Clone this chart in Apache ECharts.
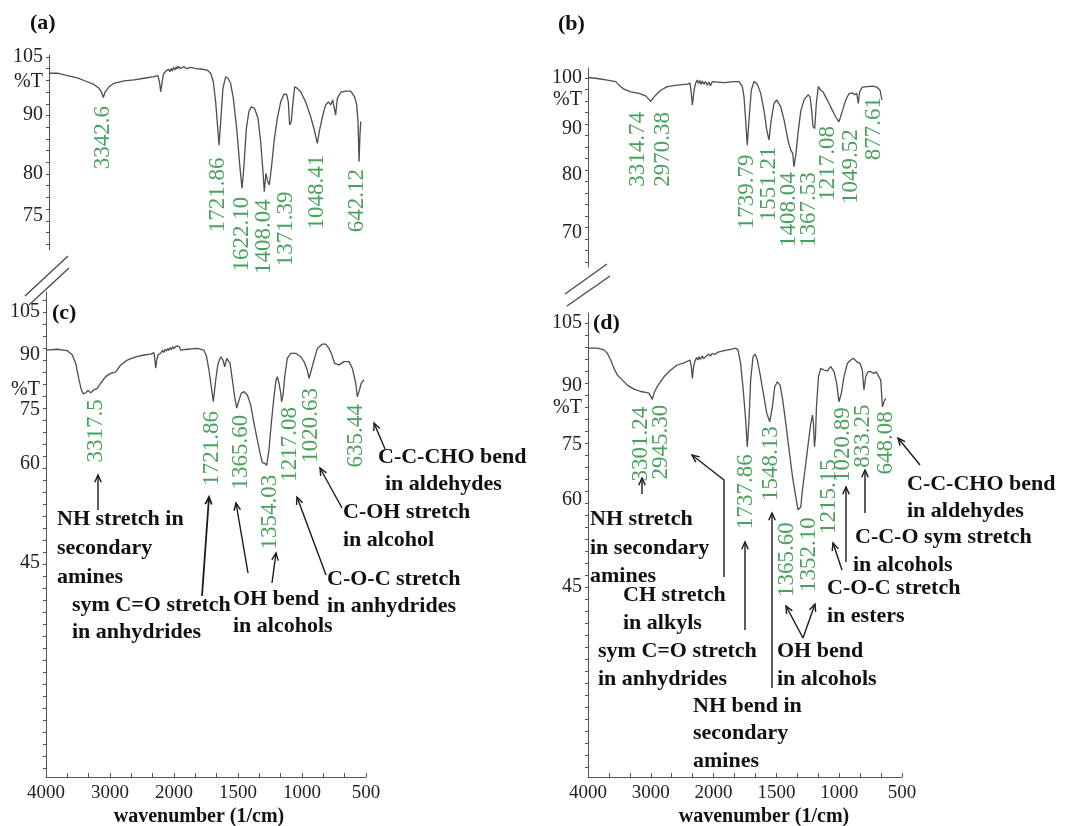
<!DOCTYPE html>
<html><head><meta charset="utf-8">
<script src="https://cdn.jsdelivr.net/npm/echarts@6/dist/echarts.min.js"></script>
<style>html,body{margin:0;padding:0;background:#fff}#chart{width:1066px;height:826px}</style>
</head><body><div id="chart"></div>
<script>
// ---------------- DATA ----------------
const X_TICK_LABELS = [4000, 3000, 2000, 1500, 1000, 500];

// Panel (a)
const A_WAVENUMBER = [4000,3872,3718,3564,3411,3308,3231,3195,3164,3138,3077,3000,2846,2692,2538,2385,2323,2297,2282,2262,2241,2200,2180,2160,2140,2120,2103,2085,2060,2040,2026,2010,1990,1962,1940,1910,1870,1833,1782,1756,1736,1718,1700,1692,1679,1662,1641,1623,1603,1582,1556,1531,1515,1500,1482,1462,1444,1418,1392,1372,1354,1344,1331,1321,1305,1287,1269,1244,1218,1192,1172,1159,1149,1136,1123,1110,1090,1064,1026,987,956,936,921,897,872,851,833,818,803,795,782,756,718,679,649,633,623,615,608,602];
const A_TRANSMITTANCE = [100.8,100.8,100.2,99.6,98.6,97.9,96.9,96.0,94.5,95.9,97.3,98.2,98.8,99.1,99.5,99.9,100.2,98.2,96.0,98.2,100.5,101.4,100.9,101.8,101.2,102.0,101.4,102.3,101.7,102.5,101.9,102.6,102.0,102.5,102.0,102.3,102.0,101.9,101.6,100.8,98.6,93.4,87.2,84.9,88.9,96.9,99.9,99.5,98.2,94.3,87.7,81.0,78.3,81.5,87.7,90.9,92.1,91.7,89.4,85.5,80.4,77.9,80.1,79.3,78.7,81.5,85.5,89.4,93.4,95.4,95.3,93.4,88.3,88.9,93.4,97.3,96.9,96.0,93.4,89.7,87.2,85.2,87.2,89.7,92.6,93.4,92.6,93.9,93.4,90.0,94.3,95.9,96.2,96.2,94.7,92.6,88.9,82.1,86.6,88.9];
const A_Y_LABELS = [105, 90, 80, 75];
const A_PEAK_TEXT = ['3342.6','1721.86','1622.10','1408.04','1371.39','1048.41','642.12'];
const A_PEAK_AT   = [3164, 1692, 1515, 1344, 1305, 936, 615];

// Panel (b)
const B_WAVENUMBER = [4000,3852,3693,3559,3506,3427,3320,3188,3081,3029,3002,2949,2843,2737,2578,2419,2376,2355,2338,2311,2285,2260,2240,2220,2200,2180,2153,2130,2100,2073,2050,2020,1997,1917,1838,1798,1771,1758,1745,1732,1718,1700,1678,1652,1625,1599,1577,1559,1541,1519,1498,1466,1439,1408,1386,1370,1360,1344,1328,1306,1280,1248,1232,1219,1209,1195,1182,1166,1147,1129,1108,1081,1055,1028,1002,975,948,922,896,877,861,848,837,816,776,736,699,675,659];
const B_TRANSMITTANCE = [100.1,99.9,99.6,99.3,98.6,97.8,97.3,97.0,96.5,95.8,95.4,96.3,97.6,98.3,98.6,98.8,99.0,97.0,94.7,97.6,99.0,99.6,98.9,99.5,98.7,99.4,98.8,99.3,98.6,99.2,98.5,99.3,99.4,99.1,99.3,99.3,98.3,96.3,91.8,86.5,91.8,97.6,99.3,98.8,97.0,93.7,89.8,87.6,91.8,95.0,95.7,94.4,91.8,87.6,85.4,84.7,81.8,84.7,89.1,93.5,95.7,96.7,96.3,93.7,90.5,90.1,95.0,98.3,97.6,97.3,96.3,95.0,93.7,92.4,91.4,93.5,95.7,96.9,97.1,96.7,97.0,95.0,97.3,98.2,98.3,98.4,98.2,97.6,95.7];
const B_Y_LABELS = [100, 90, 80, 70];
const B_PEAK_TEXT = ['3314.74','2970.38','1739.79','1551.21','1408.04','1367.53','1217.08','1049.52','877.61'];
const B_PEAK_AT   = [3002, 3002, 1732, 1559, 1360, 1360, 1209, 1002, 848];

// Panel (c)
const C_WAVENUMBER = [4000,3824,3668,3588,3536,3484,3448,3418,3380,3344,3302,3250,3198,3146,3068,2990,2910,2832,2730,2598,2468,2364,2312,2296,2286,2270,2250,2208,2180,2160,2140,2120,2100,2080,2060,2040,2020,2000,1985,1974,1960,1948,1896,1818,1766,1745,1727,1709,1693,1674,1656,1635,1617,1604,1588,1576,1562,1544,1526,1510,1492,1474,1453,1427,1401,1375,1349,1328,1310,1292,1276,1258,1240,1219,1203,1193,1180,1166,1159,1148,1135,1115,1088,1049,1010,984,959,945,927,906,880,841,815,789,771,745,711,672,633,607,580,568,555,537,516];
const C_TRANSMITTANCE = [91.7,92.0,91.5,90.0,87.7,83.2,80.5,79.4,79.7,80.3,79.7,80.5,80.9,82.3,84.1,85.0,85.4,87.3,88.6,89.5,90.0,90.3,90.8,88.2,86.4,88.6,90.0,90.6,91.6,90.9,92.0,91.3,92.3,91.6,92.6,91.9,92.9,92.2,93.1,92.5,93.0,91.7,92.0,92.3,91.7,89.5,85.9,81.4,77.3,83.2,87.7,89.5,88.6,86.8,89.1,89.1,87.7,83.2,78.6,75.5,77.7,79.6,80.0,79.1,76.4,71.3,66.7,63.0,60.4,60.2,59.8,63.9,71.3,78.6,83.2,84.1,82.3,79.6,77.3,79.1,84.1,89.1,90.6,90.6,89.5,88.2,85.9,83.6,85.9,88.6,92.3,93.8,93.8,92.3,90.6,87.7,87.3,88.2,88.2,86.4,82.3,78.6,80.0,82.3,83.2];
const C_Y_LABELS = [105, 90, 75, 60, 45];
const C_PEAK_TEXT = ['3317.5','1721.86','1365.60','1354.03','1217.08','1020.63','635.44'];
const C_PEAK_AT   = [3302, 1693, 1510, 1276, 1159, 945, 568];

// Panel (d)
const D_WAVENUMBER = [4000,3852,3745,3693,3639,3586,3533,3453,3374,3268,3161,3082,3029,2975,2949,2896,2790,2684,2578,2471,2376,2355,2338,2322,2300,2270,2250,2232,2210,2180,2160,2126,2100,2073,2050,2021,1990,1970,1917,1864,1824,1806,1785,1764,1745,1732,1718,1705,1686,1670,1652,1631,1604,1577,1553,1532,1513,1492,1471,1452,1425,1399,1372,1346,1328,1306,1293,1266,1240,1226,1213,1205,1197,1189,1181,1165,1147,1121,1094,1068,1041,1020,1002,983,962,935,908,887,861,834,816,803,789,771,749,723,706,669,656,643,630];
const D_TRANSMITTANCE = [99.0,99.0,98.6,97.8,96.2,94.2,92.6,91.4,90.2,89.2,88.6,88.4,88.2,86.6,88.2,89.9,92.2,93.8,95.0,95.5,96.2,94.6,91.8,94.2,95.8,96.8,96.2,97.0,96.3,97.2,96.5,97.0,96.9,97.6,97.1,97.8,97.5,98.0,98.4,98.7,99.0,98.6,95.4,89.0,81.4,74.5,81.4,91.4,97.0,97.6,96.2,93.0,88.1,83.1,80.9,84.7,89.8,91.0,90.2,86.9,80.5,73.6,66.4,60.9,58.3,58.8,62.7,70.0,77.1,80.5,82.6,80.5,74.5,77.1,84.7,92.2,94.2,93.8,93.6,94.6,93.4,90.6,86.0,88.1,92.2,95.4,96.2,96.6,95.8,95.4,93.8,89.0,92.2,93.4,93.4,93.0,93.4,91.4,84.7,86.0,86.9];
const D_Y_LABELS = [105, 90, 75, 60, 45];
const D_PEAK_TEXT = ['3301.24','2945.30','1737.86','1548.13','1365.60','1352.10','1215.15','1020.89','833.25','648.08'];
const D_PEAK_AT   = [2975, 2975, 1732, 1553, 1328, 1328, 1197, 1002, 803, 656];

// ---------------- LAYOUT / STYLE ----------------
const GREEN = '#1d8a36';
const CURVE = '#4a504a';
const AXIS = '#555';
const SERIF = '"Liberation Serif", "Times New Roman", serif';

const LAYOUT = {
  a: { grid:{left:49, top:55, width:325, height:195}, yTickPx:[57,115,174,216], unitAt:98.5, axisX:false, tickStep:11.7,
       labelOffsets:[[0,9],[-1,13],[0,9],[0,8],[17,7],[0,12],[-2,8]] },
  b: { grid:{left:588, top:68, width:314, height:199}, yTickPx:[78,129,175,233], unitAt:95.7, axisX:false, tickStep:11.5,
       labelOffsets:[[-12,11],[13,11],[0,10],[0,7],[-5,6],[15,6],[16,0],[13,8],[16,-6]] },
  c: { grid:{left:46, top:292, width:320, height:485}, yTickPx:[312,355,410,464,563], unitAt:80.5, axisX:true, tickStep:12,
       labelOffsets:[[6,7],[-1,10],[5,7],[4,10],[9,6],[2,10],[-1,8]] },
  d: { grid:{left:588, top:313, width:314, height:464}, yTickPx:[323,386,445,500,587], unitAt:84.4, axisX:true, tickStep:12,
       labelOffsets:[[-11,8],[9,6],[-1,8],[2,5],[-11,13],[11,8],[15,13],[5,6],[0,15],[4,5]] }
};

// x: FTIR scale, 4000-2000 compressed by half
function xT(w){ return w >= 2000 ? (4000 - w) / 2 : 1000 + (2000 - w); }
function xInv(u){ return u <= 1000 ? 4000 - 2 * u : 3000 - u; }
// y: piecewise scale through the tick labels
function makeYScale(vals, pos){
  return function(v){
    const n = vals.length; let i = 0;
    if (v >= vals[0]) i = 0;
    else if (v <= vals[n-1]) i = n - 2;
    else { for (i = 0; i < n - 1; i++) if (v <= vals[i] && v >= vals[i+1]) break; }
    const t = (v - vals[i]) / (vals[i+1] - vals[i]);
    return pos[i] + t * (pos[i+1] - pos[i]);
  };
}

const PANELS = [
  {key:'a', W:A_WAVENUMBER, T:A_TRANSMITTANCE, yl:A_Y_LABELS, pt:A_PEAK_TEXT, pa:A_PEAK_AT},
  {key:'b', W:B_WAVENUMBER, T:B_TRANSMITTANCE, yl:B_Y_LABELS, pt:B_PEAK_TEXT, pa:B_PEAK_AT},
  {key:'c', W:C_WAVENUMBER, T:C_TRANSMITTANCE, yl:C_Y_LABELS, pt:C_PEAK_TEXT, pa:C_PEAK_AT},
  {key:'d', W:D_WAVENUMBER, T:D_TRANSMITTANCE, yl:D_Y_LABELS, pt:D_PEAK_TEXT, pa:D_PEAK_AT}
];

const grids = [], xAxes = [], yAxes = [], series = [];
const xTickVals = []; for (let k = 0; k <= 15; k++) xTickVals.push(k * 2500 / 15);

PANELS.forEach((p, i) => {
  const L = LAYOUT[p.key];
  const g = L.grid;
  grids.push({left:g.left, top:g.top, width:g.width, height:g.height, containLabel:false});
  const yS = makeYScale(p.yl, L.yTickPx);
  const labelMap = {};
  const labelPos = p.yl.map(v => { const q = yS(v); labelMap[Math.round(q*100)] = String(v); return q; });
  const unitPos = yS(L.unitAt); labelMap[Math.round(unitPos*100)] = '%T'; labelPos.push(unitPos);
  const ticks = []; const bottom = g.top + g.height;
  for (let q = L.yTickPx[0]; q <= bottom + 0.01; q += L.tickStep) ticks.push(q);
  for (let q = L.yTickPx[0] - L.tickStep; q >= g.top; q -= L.tickStep) ticks.push(q);
  yAxes.push({
    gridIndex:i, type:'value', inverse:true, min:g.top, max:bottom,
    axisLine:{show:true, lineStyle:{color:AXIS, width:1}},
    axisTick:{show:true, inside:false, length:3, lineStyle:{color:AXIS}, customValues:ticks},
    axisLabel:{show:true, customValues:labelPos, margin:6, fontSize:20, fontFamily:SERIF, color:'#222',
      formatter:(v) => labelMap[Math.round(v*100)] || ''},
    splitLine:{show:false}
  });
  xAxes.push({
    gridIndex:i, type:'value', min:0, max:2500, show:L.axisX,
    axisLine:{show:true, onZero:false, lineStyle:{color:AXIS, width:1}},
    axisTick:{show:true, inside:true, length:4, lineStyle:{color:AXIS}, customValues:xTickVals},
    axisLabel:{show:true, customValues:X_TICK_LABELS.map(xT), margin:7, fontSize:19, fontFamily:SERIF, color:'#222',
      formatter:(u) => String(Math.round(xInv(u)))},
    splitLine:{show:false}
  });
  series.push({
    type:'line', xAxisIndex:i, yAxisIndex:i, showSymbol:false, symbol:'none', silent:true,
    lineStyle:{color:CURVE, width:1.3}, emphasis:{disabled:true},
    data:p.W.map((w, j) => [xT(w), yS(p.T[j])])
  });
  series.push({
    type:'scatter', xAxisIndex:i, yAxisIndex:i, symbolSize:1, silent:true, clip:false,
    itemStyle:{color:'rgba(0,0,0,0)'}, emphasis:{disabled:true},
    label:{show:true, rotate:90, align:'right', verticalAlign:'middle', color:GREEN, fontSize:23, fontFamily:SERIF},
    data:p.pt.map((t, j) => {
      const k = p.W.indexOf(p.pa[j]);
      const off = L.labelOffsets[j];
      return {name:t, value:[xT(p.W[k]), yS(p.T[k])], label:{formatter:t, position:[off[0], off[1]]}};
    })
  });
});

// ---------------- ANNOTATIONS ----------------
const graphics = [];
const BOLD = 'bold 22px ' + SERIF;
function txt(s, x, y, font){
  graphics.push({type:'text', x:x, y:y, silent:true,
    style:{text:s, font:font || BOLD, fill:'#111', textAlign:'left', textVerticalAlign:'middle', align:'left', verticalAlign:'middle'}});
}
function arrow(pts, w){
  const n = pts.length;
  graphics.push({type:'polyline', silent:true, shape:{points:pts}, style:{stroke:'#1a1a1a', lineWidth:w || 1.4, fill:null}});
  const [x1, y1] = pts[n-2], [x2, y2] = pts[n-1];
  const a = Math.atan2(y2 - y1, x2 - x1), Lh = 8, h = 0.42;
  graphics.push({type:'polyline', silent:true,
    shape:{points:[[x2 - Lh*Math.cos(a - h), y2 - Lh*Math.sin(a - h)], [x2, y2], [x2 - Lh*Math.cos(a + h), y2 - Lh*Math.sin(a + h)]]},
    style:{stroke:'#1a1a1a', lineWidth:w || 1.4, fill:null}});
}
function seg(x1, y1, x2, y2){
  graphics.push({type:'line', silent:true, shape:{x1, y1, x2, y2}, style:{stroke:'#444', lineWidth:1.2}});
}

// panel letters
txt('(a)', 30, 23); txt('(b)', 558, 24); txt('(c)', 52, 313); txt('(d)', 593, 323);
// axis titles
graphics.push({type:'text', x:199, y:817, silent:true, style:{text:'wavenumber (1/cm)', font:'bold 20px ' + SERIF, fill:'#111', textAlign:'center', textVerticalAlign:'middle', align:'center', verticalAlign:'middle'}});
graphics.push({type:'text', x:764, y:817, silent:true, style:{text:'wavenumber (1/cm)', font:'bold 20px ' + SERIF, fill:'#111', textAlign:'center', textVerticalAlign:'middle', align:'center', verticalAlign:'middle'}});
// axis breaks
seg(25, 296, 68, 256); seg(29, 305, 69, 268);
seg(565, 294, 607, 264); seg(567, 306, 610, 276);

// panel (c) notes
txt('NH stretch in', 57, 519); txt('secondary', 57, 548); txt('amines', 57, 577);
txt('sym C=O stretch', 72, 605); txt('in anhydrides', 72, 632);
txt('OH bend', 233, 599); txt('in alcohols', 233, 626);
txt('C-O-C stretch', 327, 579); txt('in anhydrides', 327, 606);
txt('C-OH stretch', 343, 512); txt('in alcohol', 343, 540);
txt('C-C-CHO bend', 378, 457); txt('in aldehydes', 385, 484);
arrow([[98, 510], [98, 475]]);
arrow([[202, 596], [209, 497]], 1.8);
arrow([[248, 573], [236, 503]]);
arrow([[272, 583], [276, 553]]);
arrow([[326, 575], [297, 497]]);
arrow([[342, 508], [320, 468]]);
arrow([[385, 449], [374, 423]]);

// panel (d) notes
txt('NH stretch', 590, 519); txt('in secondary', 590, 548); txt('amines', 590, 576);
txt('CH stretch', 623, 595); txt('in alkyls', 623, 623);
txt('sym C=O stretch', 598, 651); txt('in anhydrides', 598, 679);
txt('NH bend in', 693, 706); txt('secondary', 693, 733); txt('amines', 693, 761);
txt('OH bend', 777, 651); txt('in alcohols', 777, 679);
txt('C-O-C stretch', 827, 588); txt('in esters', 827, 616);
txt('C-C-O sym stretch', 855, 537); txt('in alcohols', 853, 565);
txt('C-C-CHO bend', 907, 484); txt('in aldehydes', 907, 511);
arrow([[642, 494], [642, 478]]);
arrow([[724, 577], [724, 480], [692, 455]]);
arrow([[745, 630], [745, 542]]);
arrow([[772, 688], [772, 513]]);
arrow([[803, 638], [786, 606]]);
arrow([[803, 638], [815, 604]]);
arrow([[842, 570], [833, 543]]);
arrow([[846, 562], [846, 487]]);
arrow([[865, 513], [865, 470]]);
arrow([[920, 465], [898, 438]]);

const chart = echarts.init(document.getElementById('chart'), null, {renderer:'canvas'});
chart.setOption({
  animation:false,
  backgroundColor:'#fff',
  grid:grids, xAxis:xAxes, yAxis:yAxes, series:series,
  graphic:graphics
});
</script></body></html>
